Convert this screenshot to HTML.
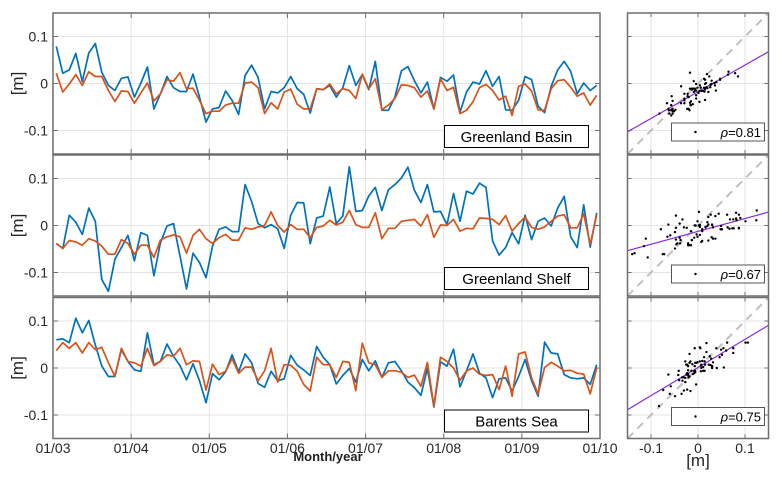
<!DOCTYPE html>
<html><head><meta charset="utf-8"><style>
html,body{margin:0;padding:0;background:#fff;}
svg{display:block;font-family:"Liberation Sans","DejaVu Sans",sans-serif;}
</style></head><body>
<svg id="chart" width="782" height="477" viewBox="0 0 782 477" xmlns="http://www.w3.org/2000/svg"></svg>
<script>
// Values in mm (divided by 1000 to get metres)
const regions = ["Greenland Basin", "Greenland Shelf", "Barents Sea"];
const rhoLabels = ["0.81", "0.67", "0.75"];
const xTickLabels = ["01/03","01/04","01/05","01/06","01/07","01/08","01/09","01/10"];
const yTicks = [0.1, 0, -0.1];
const sxTicks = [-0.1, 0, 0.1];
const obsGB = [79,22,29,64,4,65,85,24,-4,-15,11,14,-29,1,35,-54,-22,15,-9,-17,-17,20,-29,-82,-54,-51,-16,-36,-66,17,39,13,-54,-17,-20,-9,15,-11,-23,
 -63,-11,-13,-4,-29,-9,38,-4,19,-13,47,-57,-57,-29,27,36,6,-20,3,-54,13,5,18,-61,-18,3,-1,27,-6,15,-56,-57,-36,15,8,-48,-62,-6,29,47,26,-22,1,-15,-4];
const modGB = [22,-18,-1,19,-4,25,15,15,-15,-38,-16,-17,-42,-20,1,-37,-22,8,5,23,-11,-10,-36,-64,-59,-59,-46,-42,-42,1,3,-9,-64,-41,-54,-18,-12,-44,-54,
 -54,-11,-13,-1,-22,-11,-15,-32,20,-11,10,-56,-46,-32,-3,-4,-9,-29,-16,-54,10,-15,-8,-64,-57,-39,-9,-2,-15,-35,-27,-68,-6,-1,-16,-56,-57,-11,6,8,-8,-27,-20,-46,-25];
const obsGS = [-38,-49,22,7,-19,37,9,-115,-140,-72,-47,-21,-75,-15,-21,-107,-37,-1,4,-65,-135,-59,-79,-111,-44,-8,-3,-13,-13,87,51,4,-5,2,-7,-49,22,49,48,-39,16,20,82,
 4,20,125,30,32,63,81,32,76,87,101,124,75,49,87,29,30,2,68,9,73,67,90,81,-33,-63,-47,-15,-39,22,-30,9,16,-1,37,62,-24,-47,44,-46,27];
const modGS = [-38,-49,-32,-35,-42,-28,-33,-44,-61,-61,-30,-38,-61,-42,-42,-68,-31,-24,-20,-24,-59,-21,-8,-28,-38,-26,-19,-31,-31,-5,-8,-3,0,29,0,-14,2,-8,-8,-26,-4,-1,11,
 1,7,32,2,-4,-4,27,-28,-6,-6,9,11,13,-1,23,-25,1,0,13,-12,-6,-7,16,15,13,2,21,-12,4,18,-4,-8,-3,9,20,23,-5,-5,25,-40,23];
const obsBS = [60,62,54,106,75,101,49,4,-18,-18,39,14,-4,-7,75,7,14,51,25,5,-25,9,-27,-74,-12,-25,-8,28,-8,30,11,-33,-41,-7,-27,-23,27,6,-4,-16,46,23,7,
 -34,-16,-1,-30,18,-6,15,-20,11,14,-6,-30,-42,-58,-1,-83,13,4,40,-40,-6,30,-11,-21,-63,-23,-21,-49,-18,18,-27,-60,55,32,30,-14,-21,-23,-21,-35,7];
const modBS = [37,54,42,54,32,54,39,44,11,-18,42,14,11,4,42,5,14,28,25,42,7,15,14,-47,8,-14,-7,20,-11,2,2,-27,-6,42,-30,7,6,-7,-35,-49,23,7,7,
 -20,14,12,-48,53,11,7,-20,-6,-6,-9,-20,-15,-39,12,-81,23,14,0,-26,-6,0,-13,-16,-14,-46,4,-60,30,34,-21,-55,1,12,4,-6,-5,-11,-13,-55,0];
const obsSeries = [obsGB, obsGS, obsBS];
const modSeries = [modGB, modGS, modBS];

const NS = "http://www.w3.org/2000/svg";
const svg = document.getElementById("chart");
function mk(tag, attrs, parent) {
  const e = document.createElementNS(NS, tag);
  for (const k in attrs) e.setAttribute(k, attrs[k]);
  (parent || svg).appendChild(e);
  return e;
}
const L = 53, R = 600, SL = 627.5, SR = 768.5, H = 141;
const tops = [13, 155, 297.5];
const months = 84;
const xMonth = m => L + (R - L) * m / months;
const yVal = (v, p) => tops[p] + H / 2 - v * 470;
const sx = v => (SL + SR) / 2 + v * 470;
const grid = "#e3e3e3", axisC = "#6f6f6f";

for (let p = 0; p < 3; p++) {
  const t = tops[p], b = t + H;
  const g = mk("g", {});
  
  
  for (let i = 0; i < xTickLabels.length; i++) {
    const x = xMonth(i * 12);
    const gl = mk("line", {x1: x, x2: x, y1: t, y2: b, stroke: grid, "stroke-width": 1}, g);
    
    
    mk("line", {x1: x, x2: x, y1: t, y2: t + 5, stroke: axisC, "stroke-width": 1}, g);
    mk("line", {x1: x, x2: x, y1: b, y2: b - 5, stroke: axisC, "stroke-width": 1}, g);
  }
  yTicks.forEach(v => {
    const y = yVal(v, p);
    const gl = mk("line", {x1: L, x2: R, y1: y, y2: y, stroke: grid, "stroke-width": 1}, g);
    
    
    mk("line", {x1: L, x2: L + 5, y1: y, y2: y, stroke: axisC}, g);
    mk("line", {x1: R, x2: R - 5, y1: y, y2: y, stroke: axisC}, g);
    const tl = mk("text", {x: L - 5, y: y + 5, "text-anchor": "end", "font-size": 14, fill: "#262626"}, g);
    tl.textContent = v === 0 ? "0" : v.toFixed(1);
    
    
  });
  const yl = mk("text", {x: 0, y: 0, transform: `translate(23,${t + H / 2}) rotate(-90)`, "text-anchor": "middle", "font-size": 17, fill: "#262626"}, g);
  yl.textContent = "[m]";
  
  
  [[obsSeries[p], "#0072BD", "observed-line"], [modSeries[p], "#D95319", "model-line"]].forEach(([arr, col, nm]) => {
    const pts = arr.map((v, i) => xMonth(i + 0.5).toFixed(1) + "," + yVal(v / 1000, p).toFixed(1)).join(" ");
    const pl = mk("polyline", {points: pts, fill: "none", stroke: col, "stroke-width": 1.7, "stroke-linejoin": "round"}, g);
    
    
  });
  mk("rect", {x: L, y: t, width: R - L, height: H, fill: "none", stroke: axisC, "stroke-width": 1.5}, g);
  const lb = mk("rect", {x: 444.5, y: b - 28.5, width: 144, height: 22, fill: "#fff", stroke: "#000", "stroke-width": 1}, g);
  
  
  const lt = mk("text", {x: 516.5, y: b - 12, "text-anchor": "middle", "font-size": 15, fill: "#000"}, g);
  lt.textContent = regions[p];
  
  

  const sg = mk("g", {});
  
  
  sxTicks.forEach(v => {
    const x = sx(v);
    mk("line", {x1: x, x2: x, y1: t, y2: b, stroke: grid}, sg);
    mk("line", {x1: x, x2: x, y1: t, y2: t + 4, stroke: axisC}, sg);
    mk("line", {x1: x, x2: x, y1: b, y2: b - 4, stroke: axisC}, sg);
  });
  yTicks.forEach(v => {
    const y = yVal(v, p);
    mk("line", {x1: SL, x2: SR, y1: y, y2: y, stroke: grid}, sg);
    mk("line", {x1: SL, x2: SL + 4, y1: y, y2: y, stroke: axisC}, sg);
    mk("line", {x1: SR, x2: SR - 4, y1: y, y2: y, stroke: axisC}, sg);
  });
  const o = obsSeries[p].map(v => v / 1000), m = modSeries[p].map(v => v / 1000);
  const n = o.length;
  const mo = o.reduce((a, c) => a + c, 0) / n, mm = m.reduce((a, c) => a + c, 0) / n;
  let sxy = 0, sxx = 0;
  for (let i = 0; i < n; i++) { sxy += (o[i] - mo) * (m[i] - mm); sxx += (o[i] - mo) ** 2; }
  const slope = sxy / sxx, icpt = mm - slope * mo;
  const dl = mk("line", {x1: SL, y1: yVal(-0.15, p), x2: SR, y2: yVal(0.15, p), stroke: "#c0c0c0", "stroke-width": 2, "stroke-dasharray": "8,6"}, sg);
  
  
  const fl = mk("line", {x1: SL, y1: yVal(icpt + slope * -0.15, p), x2: SR, y2: yVal(icpt + slope * 0.15, p), stroke: "#8a2be2", "stroke-width": 1.2}, sg);
  
  
  for (let i = 0; i < n; i++) {
    const c = mk("circle", {cx: sx(o[i]), cy: yVal(m[i], p), r: 1.2, fill: "#000"}, sg);
    
    
  }
  mk("rect", {x: SL, y: t, width: SR - SL, height: H, fill: "none", stroke: axisC, "stroke-width": 1.5}, sg);
  const rb = mk("rect", {x: 671.5, y: b - 31, width: 93, height: 18, fill: "#fff", stroke: "#555", "stroke-width": 1}, sg);
  
  
  mk("circle", {cx: 695.5, cy: b - 22, r: 1.2, fill: "#000"}, sg);
  const rt = mk("text", {x: 761, y: b - 17, "text-anchor": "end", "font-size": 13, fill: "#000"}, sg);
  rt.innerHTML = '<tspan font-style="italic">ρ</tspan>=' + rhoLabels[p];
  
  
}
xTickLabels.forEach((s, i) => {
  const tx = mk("text", {x: xMonth(i * 12), y: 453, "text-anchor": "middle", "font-size": 14, fill: "#262626"});
  tx.textContent = s;
  
  
});
const xt = mk("text", {x: 328, y: 461, "text-anchor": "middle", "font-size": 13, "font-weight": "bold", fill: "#222"});
xt.textContent = "Month/year";


sxTicks.forEach(v => {
  const tx = mk("text", {x: sx(v), y: 453, "text-anchor": "middle", "font-size": 14, fill: "#262626"});
  tx.textContent = v === 0 ? "0" : v.toFixed(1);
  
  
});
const st = mk("text", {x: 698, y: 466, "text-anchor": "middle", "font-size": 17, fill: "#262626"});
st.textContent = "[m]";


</script>
</body></html>
